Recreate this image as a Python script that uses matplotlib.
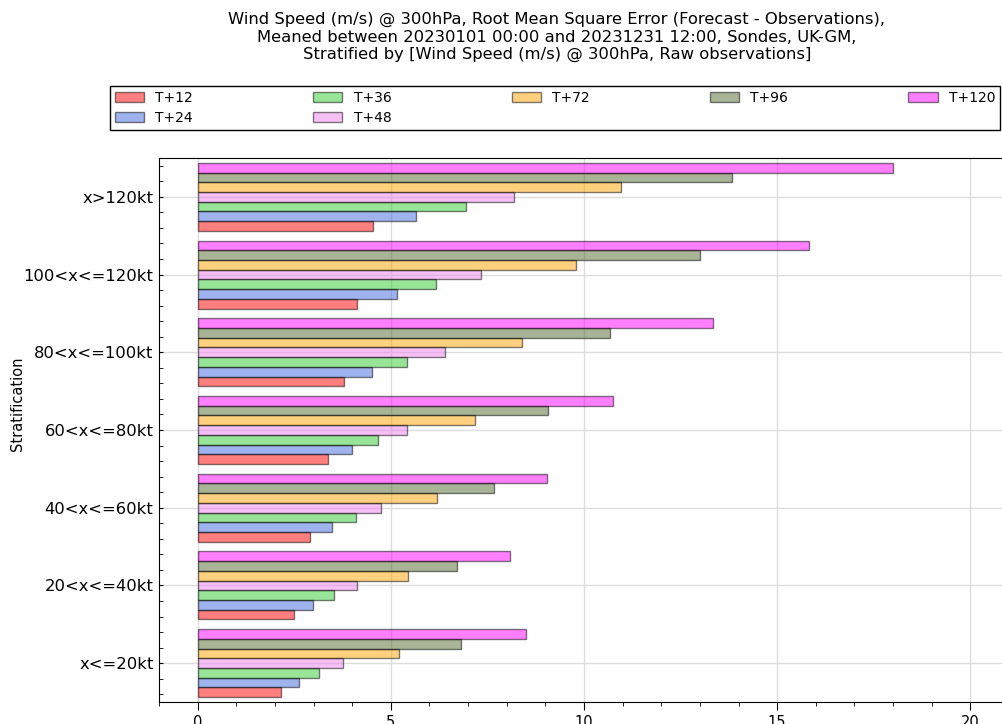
import numpy as np
import matplotlib
matplotlib.use("Agg")
from matplotlib import pyplot as plt
from matplotlib.ticker import AutoMinorLocator

# stratification bins, bottom to top
categories = ['x<=20kt', '20<x<=40kt', '40<x<=60kt', '60<x<=80kt',
              '80<x<=100kt', '100<x<=120kt', 'x>120kt']

lead_times = ['T+12', 'T+24', 'T+36', 'T+48', 'T+72', 'T+96', 'T+120']

# RMS error (m/s) per lead time, one value per bin
rmse_t12 = [2.17, 2.50, 2.92, 3.37, 3.80, 4.13, 4.54]
rmse_t24 = [2.62, 2.99, 3.47, 4.00, 4.52, 5.16, 5.66]
rmse_t36 = [3.14, 3.53, 4.11, 4.67, 5.41, 6.18, 6.94]
rmse_t48 = [3.75, 4.13, 4.75, 5.41, 6.40, 7.34, 8.19]
rmse_t72 = [5.21, 5.44, 6.20, 7.19, 8.39, 9.79, 10.96]
rmse_t96 = [6.82, 6.71, 7.68, 9.06, 10.68, 13.00, 13.82]
rmse_t120 = [8.50, 8.09, 9.03, 10.76, 13.34, 15.83, 18.00]

series = [rmse_t12, rmse_t24, rmse_t36, rmse_t48, rmse_t72, rmse_t96, rmse_t120]
colours = ['red', 'royalblue', 'limegreen', 'violet', 'orange',
           'darkolivegreen', 'magenta']

fig = plt.figure(figsize=(10.02, 7.24), dpi=100)
ax = fig.add_axes([159 / 1002, 22 / 724, 850 / 1002, 544 / 724])

bar_h = 0.125
ypos = np.arange(len(categories))
for i, (vals, col, lab) in enumerate(zip(series, colours, lead_times)):
    ax.barh(ypos + (i - 3) * bar_h, vals, height=bar_h,
            color=matplotlib.colors.to_rgba(col, 0.5),
            edgecolor=(0, 0, 0, 0.5), linewidth=1, label=lab, zorder=3)

ax.set_xlim(-1, 21)
ax.set_ylim(-0.5, 6.5)
ax.set_yticks(ypos)
ax.set_yticklabels(categories, fontsize=11.8)
ax.set_xticks([0, 5, 10, 15, 20])
ax.tick_params(axis='x', labelsize=10.5, direction='out', length=6)
ax.tick_params(axis='x', which='minor', direction='out', length=3)
ax.tick_params(axis='y', which='both', direction='in', length=3, pad=4)
ax.xaxis.set_minor_locator(AutoMinorLocator(5))
ax.yaxis.set_minor_locator(AutoMinorLocator(5))
ax.grid(True, which='major', color='#dddddd', linewidth=1, zorder=0)
ax.set_axisbelow(True)
ax.spines['right'].set_visible(False)

ax.set_ylabel('Stratification', fontsize=10.5)
ax.yaxis.set_label_coords((25 - 159) / 850, (702 - 404) / 544)

fig.text(557 / 1002, 1 - 12 / 724,
         'Wind Speed (m/s) @ 300hPa, Root Mean Square Error (Forecast - Observations),\n'
         'Meaned between 20230101 00:00 and 20231231 12:00, Sondes, UK-GM,\n'
         'Stratified by [Wind Speed (m/s) @ 300hPa, Raw observations]',
         ha='center', va='top', fontsize=11.8, linespacing=1.2)

leg = fig.legend(loc='upper left', ncol=5, mode='expand',
                 bbox_to_anchor=(110 / 1002, 1 - 86 / 724, 890 / 1002, 0),
                 fontsize=10, fancybox=False, framealpha=1, edgecolor='black',
                 borderaxespad=0, handlelength=2.1, labelspacing=0.45,
                 borderpad=0.35)
leg.get_frame().set_linewidth(1)

plt.savefig('out.png', dpi=100)
